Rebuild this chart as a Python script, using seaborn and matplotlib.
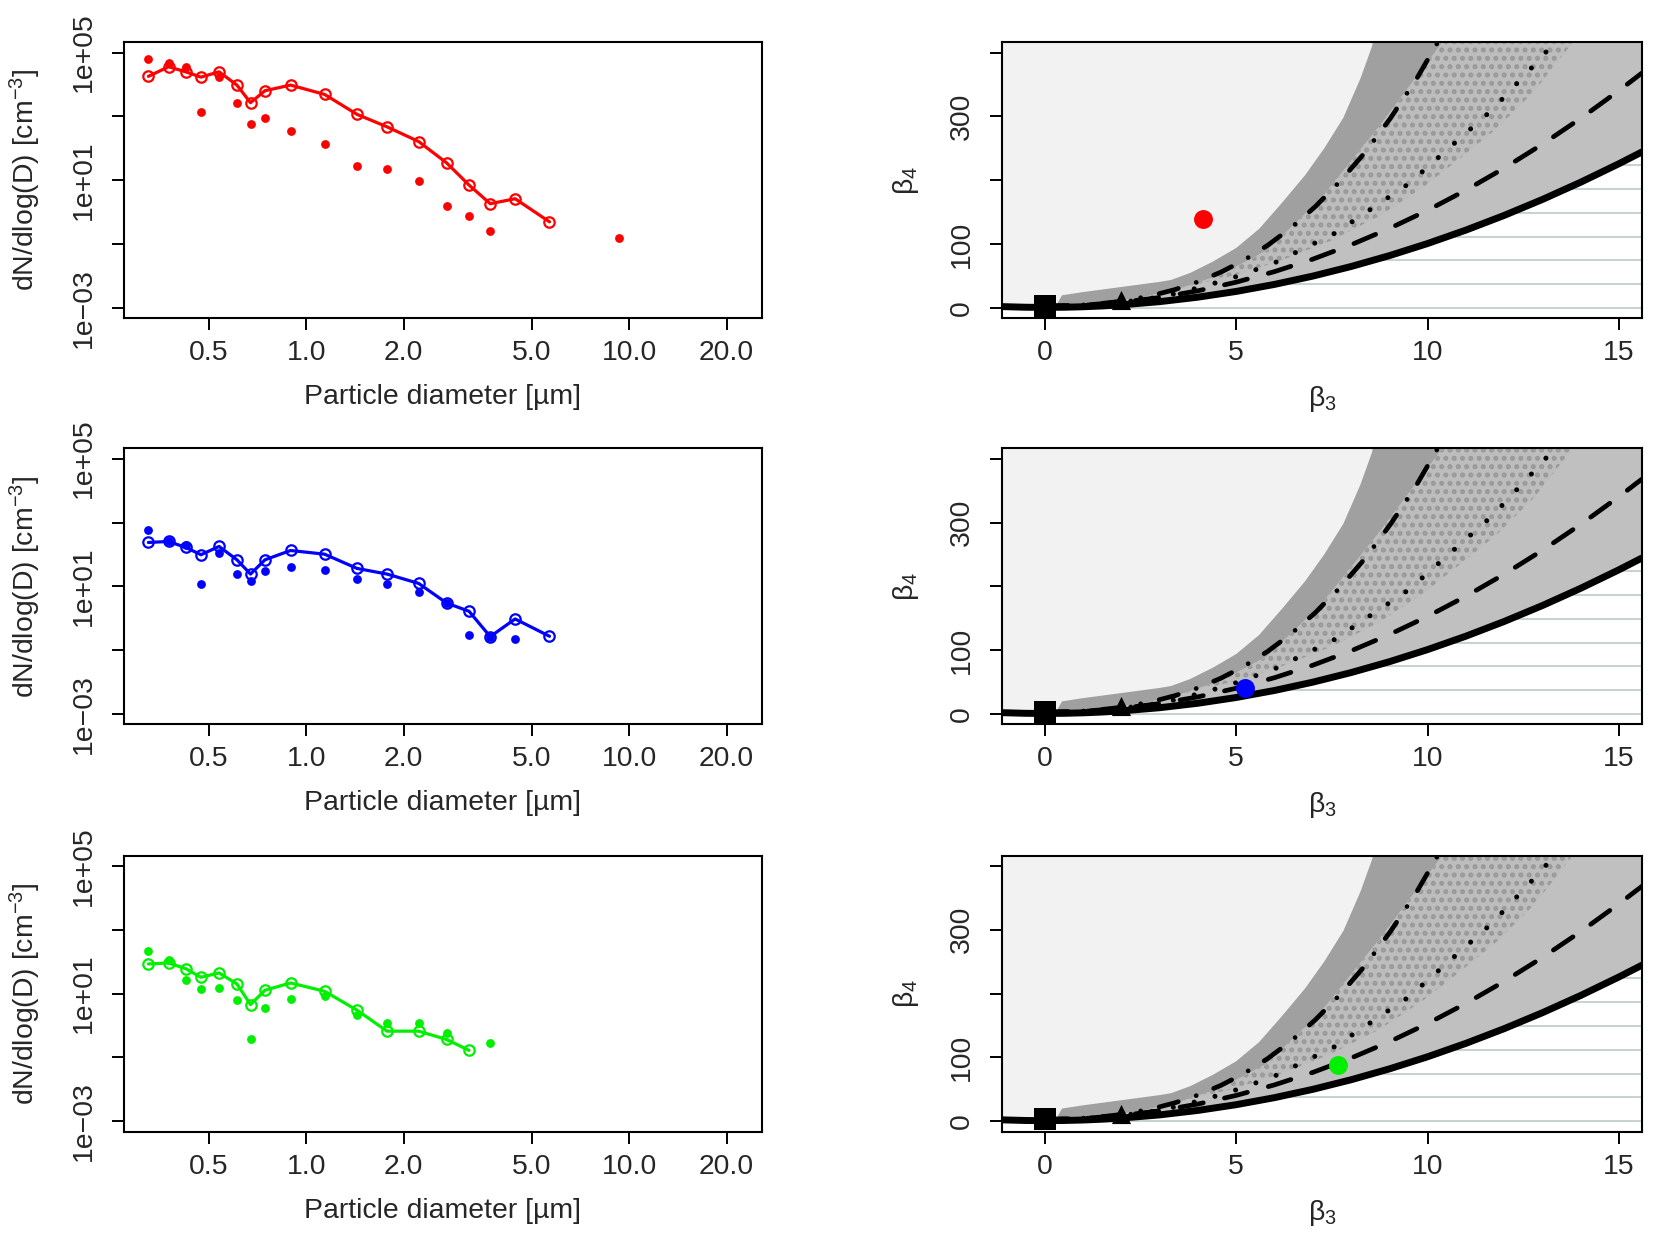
import numpy as np
import pandas as pd
import seaborn as sb
import matplotlib
matplotlib.use("Agg")
import matplotlib.pyplot as plt

# ---- size distributions (left column) ----
diam = [0.3245, 0.3749, 0.4232, 0.4722, 0.537, 0.610, 0.672, 0.745, 0.894, 1.139,
        1.436, 1.778, 2.227, 2.72, 3.19, 3.71, 4.43, 5.66, 9.3]   # um
nan = np.nan
red_line = [1.8e4, 3.6e4, 2.5e4, 1.7e4, 2.5e4, 9.6e3, 2.7e3, 6.4e3, 9.6e3, 4.9e3,
            1.16e3, 473, 164, 35, 7.1, 1.85, 2.65, 0.50, nan]
red_pts = [6.2e4, 4.6e4, 3.5e4, 1.4e3, 1.7e4, 2.56e3, 574, 865, 355, 142,
           28, 22.7, 9.5, 1.56, 0.76, 0.26, nan, nan, 0.16]
blue_line = [237, 255, 166, 98, 178, 68, 24.3, 68, 133, 102,
             36.5, 24.3, 12.4, 3.0, 1.66, 0.267, 0.955, 0.274, nan]
blue_pts = [590, 267, 196, 12.1, 115, 24.9, 15.0, 30.9, 39.3, 31.6,
            16.6, 12.1, 6.8, 3.0, 0.31, 0.267, 0.23, nan, nan]
green_line = [84.5, 90.8, 60.4, 32.4, 44.3, 20.0, 4.53, 12.7, 21.5, 11.8,
              3.01, 0.665, 0.665, 0.365, 0.166, nan, nan, nan, nan]
green_pts = [210, 110, 26.1, 14.0, 15.0, 6.34, 0.383, 3.56, 6.98, 8.26,
             2.10, 1.155, 1.155, 0.59, nan, 0.287, nan, nan, nan]

# ---- skewness / kurtosis plane (right column) ----
sample_b3 = [4.13, 5.22, 7.65]
sample_b4 = [139, 40.9, 87.7]
colors = ["#ff0000", "#0000ff", "#00f000"]

lim_x = [-1.12, -0.5, 0, 0.5, 1, 1.5, 2, 3, 4, 5, 6, 7, 8, 9, 10, 11, 12, 13, 14, 15, 15.6]
lim_y = [2.25, 1.25, 1, 1.25, 2, 3.25, 5, 10, 17, 26, 37, 50, 65, 82, 101, 122, 145, 170, 197, 226, 244.4]
gam_x = [0, 1, 2, 3, 4, 5, 6, 7, 8, 9, 10, 11, 12, 13, 14, 15, 15.6]
gam_y = [3, 4.5, 9, 16.5, 27, 40.5, 57, 76.5, 99, 124.5, 153, 184.5, 219, 256.5, 297, 340.5, 368]
lno_x = [0, 0.68, 0.98, 1.43, 1.81, 2.15, 2.79, 3.40, 4.0, 4.6, 5.21, 5.82, 6.44, 7.07,
         7.71, 8.37, 9.03, 9.71, 10.39]
lno_y = [3, 3.83, 4.76, 6.85, 9.32, 12.2, 19.4, 28.9, 41, 56.2, 75.1, 98.1, 125.9, 159,
         198.1, 243.9, 297.2, 358.6, 429]
wei_x = [0, 0.63, 1.07, 1.52, 2, 2.6, 3.2, 4.0, 4.84, 5.98, 7.57, 9.51, 11.69, 12.91, 13.6]
wei_y = [2.7, 3.25, 4.39, 6.3, 9, 13.5, 19.5, 31.5, 45.8, 70.1, 116.8, 194.7, 310.5, 388.5, 435]

# grey regions
up_x = [0, 1.5, 2.5, 3.5, 4.6, 5.8, 7.2, 8.77, 10.34, 10.6]
up_y = [3, 8, 16, 30, 52, 90, 170, 287, 412, 440]
left_x = [0.3, 0.45, 1.0, 1.5, 2.0, 2.5, 3.0, 3.3, 3.8, 4.4, 5.0, 5.6, 6.2, 6.8, 7.3, 7.8, 8.25, 8.55, 8.65]
left_y = [4, 20, 25, 29, 33, 37, 41, 44, 55, 73, 94, 124, 165, 208, 250, 298, 360, 410, 440]
low_x = [3.8, 5.0, 6.15, 7.46, 8.77, 9.9, 10.86, 11.82, 12.78, 13.74, 13.9]
low_y = [35, 52, 74, 105, 145, 190, 235, 282, 339, 412, 440]
hatch_y = [0.6, 37.3, 74.6, 112, 149.3, 186.6, 224]
hatch_x0 = [-1.12, 6.02, 8.58, 10.54, 12.18, 13.62, 14.93]

sb.set_style("ticks")
plt.rcParams["font.family"] = ["Liberation Sans", "DejaVu Sans"]
plt.rcParams["mathtext.fontset"] = "custom"
plt.rcParams["mathtext.rm"] = "Liberation Sans"
plt.rcParams["mathtext.it"] = "Liberation Sans"
plt.rcParams["mathtext.bf"] = "Liberation Sans:bold"
plt.rcParams["hatch.linewidth"] = 2.4
FS = 20.4

fig = plt.figure(figsize=(16.55, 12.35), dpi=100)
rows = [0.7423, 0.4135, 0.0838]
lines = [red_line, blue_line, green_line]
pts = [red_pts, blue_pts, green_pts]


def style_box(ax):
    for s in ax.spines.values():
        s.set_visible(True)
        s.set_linewidth(1.5)
        s.set_color("black")
    ax.tick_params(direction="out", length=8.9, width=1.4, labelsize=FS, color="black")
    ax.tick_params(axis="x", pad=7)
    ax.tick_params(axis="y", pad=10.5)


for i in range(3):
    # size distribution
    ax = fig.add_axes([0.0750, rows[i], 0.3853, 0.2234])
    df = pd.DataFrame({"d": diam, "line": lines[i], "pts": pts[i]})
    c = colors[i]
    sb.lineplot(data=df.dropna(subset=["line"]), x="d", y="line", ax=ax, color=c, lw=2.3,
                marker="o", markersize=7.5, markerfacecolor="none", markeredgecolor=c,
                markeredgewidth=1.6, estimator=None)
    sb.scatterplot(data=df.dropna(subset=["pts"]), x="d", y="pts", ax=ax, color=c, s=40,
                   linewidth=0, zorder=3)
    ax.set_xscale("log")
    ax.set_yscale("log")
    ax.set_xlim(0.273, 25.7)
    ax.set_ylim(10 ** -3.32, 10 ** 5.32)
    ax.set_xticks([0.5, 1, 2, 5, 10, 20])
    ax.set_xticklabels(["0.5", "1.0", "2.0", "5.0", "10.0", "20.0"])
    ax.xaxis.set_minor_locator(matplotlib.ticker.NullLocator())
    ax.yaxis.set_minor_locator(matplotlib.ticker.NullLocator())
    ax.set_yticks([1e-3, 1e-1, 1e1, 1e3, 1e5])
    ax.set_yticklabels(["1e\u221203", "", "1e+01", "", "1e+05"], rotation=90, va="center")
    ax.set_facecolor("white")
    style_box(ax)
    ax.set_xlabel("Particle diameter [\u00b5m]", fontsize=FS, labelpad=13)
    ax.set_ylabel("dN/dlog(D) [cm$^{-3}$]", fontsize=FS, labelpad=20)

    # Cullen and Frey type plane
    ax = fig.add_axes([0.6054, rows[i], 0.3867, 0.2234])
    ax.set_facecolor("#f2f2f2")
    ax.fill(lim_x + [15.6, -1.12], lim_y + [-30, -30], color="white", lw=0, zorder=0.5)
    ax.hlines(hatch_y, hatch_x0, 15.6, color="#c6d2d2", lw=1.4, zorder=0.6)
    ax.fill(lim_x[2:] + [15.6, 15.6] + up_x[::-1], lim_y[2:] + [440, 440] + up_y[::-1],
            color="#c0c0c0", lw=0, zorder=0.7)
    ax.fill(left_x + up_x[::-1], left_y + up_y[::-1], color="#a0a0a0", lw=0, zorder=0.8)
    ax.fill(up_x[3:] + low_x[::-1], up_y[3:] + low_y[::-1], facecolor="#bdbdbd",
            edgecolor="#999999", hatch="..", lw=0, zorder=0.9)
    sb.lineplot(x=lim_x, y=lim_y, ax=ax, color="black", lw=5, estimator=None, zorder=2)
    sb.lineplot(x=gam_x, y=gam_y, ax=ax, color="black", lw=3.4, estimator=None,
                linestyle=(0, (5, 4.6)), dash_capstyle="round", zorder=2)
    sb.lineplot(x=lno_x, y=lno_y, ax=ax, color="black", lw=3.4, estimator=None,
                linestyle=(0, (4.2, 4.0, 0.01, 4.0)), dash_capstyle="round", zorder=2)
    sb.lineplot(x=wei_x, y=wei_y, ax=ax, color="black", lw=3.6, estimator=None,
                linestyle=(0, (0.01, 4.3)), dash_capstyle="round", zorder=2)
    sb.scatterplot(x=[0], y=[3], ax=ax, marker="s", s=240, color="black", linewidth=0, zorder=3)
    sb.scatterplot(x=[2], y=[12], ax=ax, marker="^", s=190, color="black", linewidth=0, zorder=3)
    sb.scatterplot(x=[sample_b3[i]], y=[sample_b4[i]], ax=ax, s=185, color=c,
                   linewidth=0, zorder=4)
    ax.set_xlim(-1.12, 15.6)
    ax.set_ylim(-16, 416)
    ax.set_xticks([0, 5, 10, 15])
    ax.set_yticks([0, 100, 200, 300, 400])
    ax.set_yticklabels(["0", "100", "", "300", ""], rotation=90, va="center")
    style_box(ax)
    ax.set_xlabel(r"$\beta_3$", fontsize=FS, labelpad=13)
    ax.set_ylabel(r"$\beta_4$", fontsize=FS, labelpad=20)

fig.savefig("out.png", dpi=100, facecolor="white")
